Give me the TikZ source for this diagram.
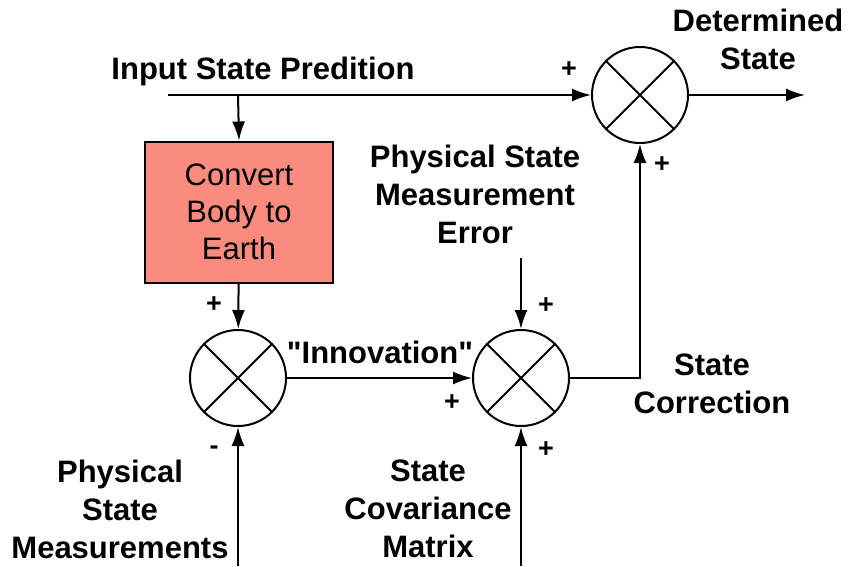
\documentclass[tikz,border=0pt]{standalone}
\usepackage{fontspec}
\setmainfont{Liberation Sans}
\usetikzlibrary{arrows.meta}
\definecolor{boxred}{RGB}{250,139,126}

\begin{document}
\begin{tikzpicture}[
          x=1pt, y=-1pt,
          line width=2pt,
          >={Latex[length=19pt,width=13pt]},
          sumnode/.style={draw, circle, minimum size=96pt, inner sep=0pt},
          blockbox/.style={draw, fill=boxred, minimum width=188pt, minimum height=141pt,
            align=center, font=\fontsize{31}{37}\selectfont},
          lbl/.style={align=center, font=\bfseries\fontsize{31}{38}\selectfont},
          sgn/.style={font=\bfseries\fontsize{27}{27}\selectfont, inner sep=0pt}
        ]
        \useasboundingbox (0,0) rectangle (849,566);

        % summing junctions and the block
        \node[sumnode] (s1) at (238,378) {};
        \node[sumnode] (s2) at (521,378) {};
        \node[sumnode] (s3) at (640,95) {};
        \node[blockbox] (conv) at (239,212) {Convert\\Body to\\Earth};
        \foreach \s in {s1,s2,s3}
          \draw (\s.north west) -- (\s.south east) (\s.north east) -- (\s.south west);

        % free ends
        \coordinate (pred) at (168,95);
        \coordinate (split) at (238,95);
        \coordinate (out) at (805,95);
        \coordinate (err) at (521,258);
        \coordinate (meas) at (238,566);
        \coordinate (cov) at (521,566);

        % connectors
        \draw[->] (pred) -- (s3);
        \draw[->] (split) -- (conv.north);
        \draw[->] (s3) -- (out);
        \draw[->] (conv) -- (s1);
        \draw[->] (s1) -- (s2);
        \draw[->] (err) -- (s2);
        \draw[->] (meas) -- (s1);
        \draw[->] (cov) -- (s2);
        \draw[->] (s2) -| (s3);

        % labels
        \node[lbl, anchor=base] (tpred) at (263,79) {Input State Predition};
        \node[lbl] (tout) at (758,39) {Determined\\State};
        \node[lbl] (terr) at (475,194) {Physical State\\Measurement\\Error};
        \node[lbl, anchor=base] (tinno) at (380,363) {\textquotedbl Innovation\textquotedbl};
        \node[lbl] (tcorr) at (712,384) {State\\Correction};
        \node[lbl] (tmeas) at (120,509) {Physical\\State\\Measurements};
        \node[lbl] (tcov) at (428,509) {State\\Covariance\\Matrix};

        % signs
        \node[sgn] (p1) at (569,70) {+};
        \node[sgn] (p2) at (662,165) {+};
        \node[sgn] (p3) at (214,305) {+};
        \node[sgn] (p4) at (546,306) {+};
        \node[sgn] (p5) at (452,403) {+};
        \node[sgn] (p6) at (546,450) {+};
        \node[sgn] (m1) at (214,450) {-};
        \end{tikzpicture}
\end{document}
